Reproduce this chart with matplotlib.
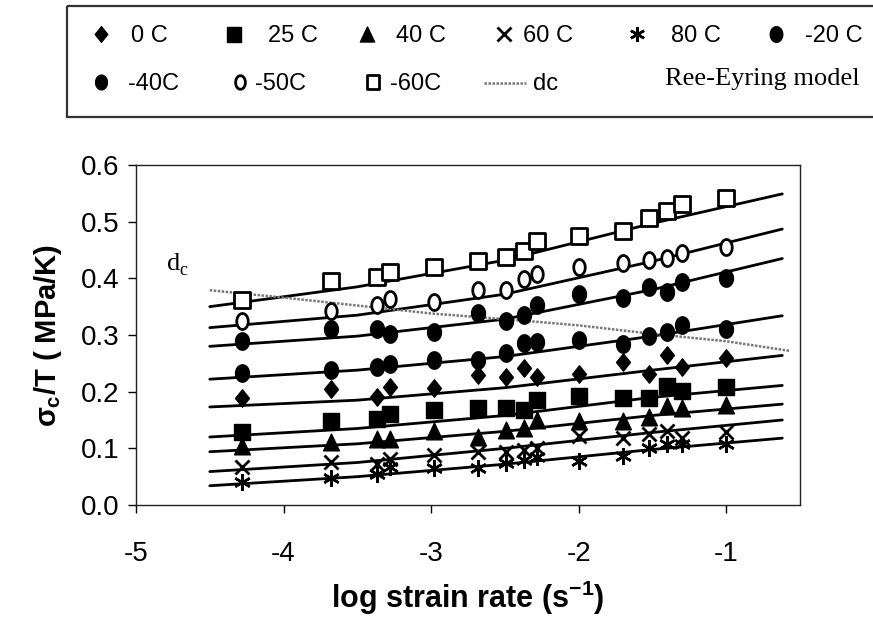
import numpy as np
import matplotlib
matplotlib.use("Agg")
import matplotlib.pyplot as plt
from matplotlib.path import Path
from matplotlib.patches import Rectangle

SANS = 'Liberation Sans'
SERIF = 'Liberation Serif'

plt.rcParams['font.family'] = [SANS, 'DejaVu Sans']
plt.rcParams['mathtext.fontset'] = 'custom'
plt.rcParams['mathtext.rm'] = SANS + ':bold'
plt.rcParams['mathtext.bf'] = SANS + ':bold'
plt.rcParams['mathtext.it'] = SANS + ':bold'

# ---------------- data ----------------
log_rate = [-4.28, -3.68, -3.37, -3.28, -2.98, -2.68, -2.49, -2.37, -2.28,
            -2.0, -1.70, -1.52, -1.40, -1.30, -1.0]

s_m60 = [0.362, 0.395, 0.403, 0.411, 0.420, 0.430, 0.438, 0.448, 0.466, 0.475, 0.483, 0.506, 0.519, 0.531, 0.541]
s_m50 = [0.325, 0.342, 0.353, 0.364, 0.359, 0.379, 0.380, 0.399, 0.407, 0.420, 0.427, 0.432, 0.436, 0.444, 0.456]
s_m40 = [0.289, 0.311, 0.311, 0.302, 0.306, 0.339, 0.325, 0.335, 0.353, 0.372, 0.366, 0.385, 0.376, 0.394, 0.401]
s_m20 = [0.233, 0.239, 0.243, 0.249, 0.256, 0.256, 0.268, 0.286, 0.288, 0.291, 0.285, 0.299, 0.305, 0.317, 0.311]
s_0 = [0.188, 0.204, 0.191, 0.208, 0.206, 0.229, 0.226, 0.242, 0.226, 0.232, 0.253, 0.232, 0.264, 0.244, 0.259]
s_25 = [0.129, 0.148, 0.151, 0.161, 0.168, 0.171, 0.171, 0.168, 0.185, 0.192, 0.189, 0.189, 0.210, 0.201, 0.209]
s_40 = [0.105, 0.111, 0.117, 0.117, 0.131, 0.120, 0.132, 0.136, 0.150, 0.148, 0.148, 0.156, 0.174, 0.171, 0.177]
s_60 = [0.067, 0.076, 0.073, 0.082, 0.088, 0.094, 0.094, 0.097, 0.101, 0.122, 0.119, 0.125, 0.131, 0.119, 0.128]
s_80 = [0.041, 0.047, 0.055, 0.067, 0.065, 0.065, 0.074, 0.079, 0.085, 0.078, 0.087, 0.101, 0.107, 0.107, 0.107]

# Ree-Eyring model curves
fit_x = [-4.5, -3.5, -2.5, -1.5, -0.62]
fit_m60 = [0.350, 0.385, 0.432, 0.497, 0.549]
fit_m50 = [0.313, 0.335, 0.372, 0.430, 0.487]
fit_m40 = [0.280, 0.298, 0.328, 0.380, 0.435]
fit_m20 = [0.222, 0.238, 0.262, 0.298, 0.334]
fit_0 = [0.173, 0.185, 0.207, 0.238, 0.264]
fit_25 = [0.120, 0.135, 0.158, 0.190, 0.211]
fit_40 = [0.094, 0.108, 0.130, 0.158, 0.178]
fit_60 = [0.059, 0.075, 0.100, 0.128, 0.150]
fit_80 = [0.034, 0.050, 0.072, 0.098, 0.118]

# dc line
dc_x = [-4.5, -4.0, -3.5, -3.0, -2.5, -2.0, -1.5, -1.0, -0.57]
dc_y = [0.379, 0.366, 0.352, 0.338, 0.328, 0.317, 0.302, 0.289, 0.272]

x_ticks = [-5, -4, -3, -2, -1]
y_ticks = [0.0, 0.1, 0.2, 0.3, 0.4, 0.5, 0.6]

# ---------------- markers ----------------
def ellipse(w=0.8):
    t = np.linspace(0, 2 * np.pi, 60)
    v = np.column_stack([w * np.cos(t), np.sin(t)])
    return Path(v, closed=True)

M_DIAMOND = Path([(0, 1), (0.8, 0), (0, -1), (-0.8, 0), (0, 1)], closed=True)
M_SQUARE = Path([(-0.95, -1), (0.95, -1), (0.95, 1), (-0.95, 1), (-0.95, -1)], closed=True)
M_TRI = Path([(0, 1), (0.95, -1), (-0.95, -1), (0, 1)], closed=True)
M_ELL = ellipse(0.8)
M_OELL = ellipse(0.72)
M_AST = (6, 2, 0)

series = [
    (s_0, fit_0, '0 C', dict(marker=M_DIAMOND, ms=12.5, mfc='black', mec='black')),
    (s_25, fit_25, '25 C', dict(marker=M_SQUARE, ms=12, mfc='black', mec='black')),
    (s_40, fit_40, '40 C', dict(marker=M_TRI, ms=12, mfc='black', mec='black')),
    (s_60, fit_60, '60 C', dict(marker='x', ms=10.5, mec='black', mew=2.0)),
    (s_80, fit_80, '80 C', dict(marker=M_AST, ms=12, mec='black', mew=1.8)),
    (s_m20, fit_m20, '-20 C', dict(marker=M_ELL, ms=12.5, mfc='black', mec='black')),
    (s_m40, fit_m40, '-40C', dict(marker=M_ELL, ms=12.5, mfc='black', mec='black')),
    (s_m50, fit_m50, '-50C', dict(marker=M_OELL, ms=11.5, mfc='white', mec='black', mew=2.0)),
    (s_m60, fit_m60, '-60C', dict(marker=M_SQUARE, ms=11.5, mfc='white', mec='black', mew=2.0)),
]

fig = plt.figure(figsize=(8.73, 6.37), dpi=100)
W, H = 873, 637
ax = fig.add_axes([136 / W, (H - 505) / H, (800 - 136) / W, (505 - 165) / H])

for vals, fit, lab, st in series:
    ax.plot(fit_x, fit, color='black', lw=2.0, zorder=2, solid_capstyle='round')
for vals, fit, lab, st in series:
    ax.plot(log_rate, vals, ls='none', zorder=3, **st)

ax.plot(dc_x, dc_y, color='#777777', lw=1.8, ls=(0, (1, 0.6)), zorder=2.5)

ax.text(-4.79, 0.415, 'd', family=SERIF, fontsize=19, ha='left', va='baseline')
ax.text(-4.705, 0.405, 'c', family=SERIF, fontsize=13, ha='left', va='baseline')

ax.set_xlim(-5, -0.5)
ax.set_ylim(0, 0.6)
ax.set_xticks(x_ticks)
ax.set_xticklabels([str(v) for v in x_ticks])
ax.set_yticks(y_ticks)
ax.set_yticklabels([f'{v:.1f}' for v in y_ticks])
ax.tick_params(axis='both', direction='out', length=6, width=1.0, colors='black')
ax.tick_params(axis='x', pad=20, labelsize=20)
ax.tick_params(axis='y', pad=6, labelsize=20)
for sp in ax.spines.values():
    sp.set_linewidth(1.0)
    sp.set_color('#222222')

ax.set_xlabel('log strain rate (s$^{-1}$)', family=SANS, fontweight='bold', fontsize=22, labelpad=8)
ax.set_ylabel(r'$\sigma_c$/T ( MPa/K)', family=SANS, fontweight='bold', fontsize=21, labelpad=12)

# ---------------- legend box (figure pixel coordinates) ----------------
lax = fig.add_axes([0, 0, 1, 1], zorder=-1)
lax.set_xlim(0, W)
lax.set_ylim(H, 0)
lax.axis('off')
lax.add_patch(Rectangle((67, 6), 900, 111, fill=False, lw=1.6, ec='#333333'))

row1_marker_x = [101, 234, 367, 504, 637, 776]
row1_text_x = [131, 268, 396, 523, 671, 805]
row2_marker_x = [101, 240, 373]
row2_text_x = [128, 255, 390]

for (vals, fit, lab, st), mx, tx in zip(series[:6], row1_marker_x, row1_text_x):
    lst = dict(st)
    lst['ms'] = st['ms'] * 0.9
    lax.plot([mx], [34], ls='none', **lst)
    lax.text(tx, 42, lab, family=SANS, fontsize=17, va='baseline', ha='left')
for (vals, fit, lab, st), mx, tx in zip(series[6:], row2_marker_x, row2_text_x):
    lst = dict(st)
    lst['ms'] = st['ms'] * 0.85
    lax.plot([mx], [82], ls='none', **lst)
    lax.text(tx, 90, lab, family=SANS, fontsize=17, va='baseline', ha='left')
lax.plot([484, 526], [83, 83], color='#777777', lw=1.8, ls=(0, (1, 0.6)))
lax.text(533, 90, 'dc', family=SANS, fontsize=17, va='baseline', ha='left')
lax.text(665, 85, 'Ree-Eyring model', family=SERIF, fontsize=19, va='baseline', ha='left')

fig.savefig('out.png', dpi=100)
